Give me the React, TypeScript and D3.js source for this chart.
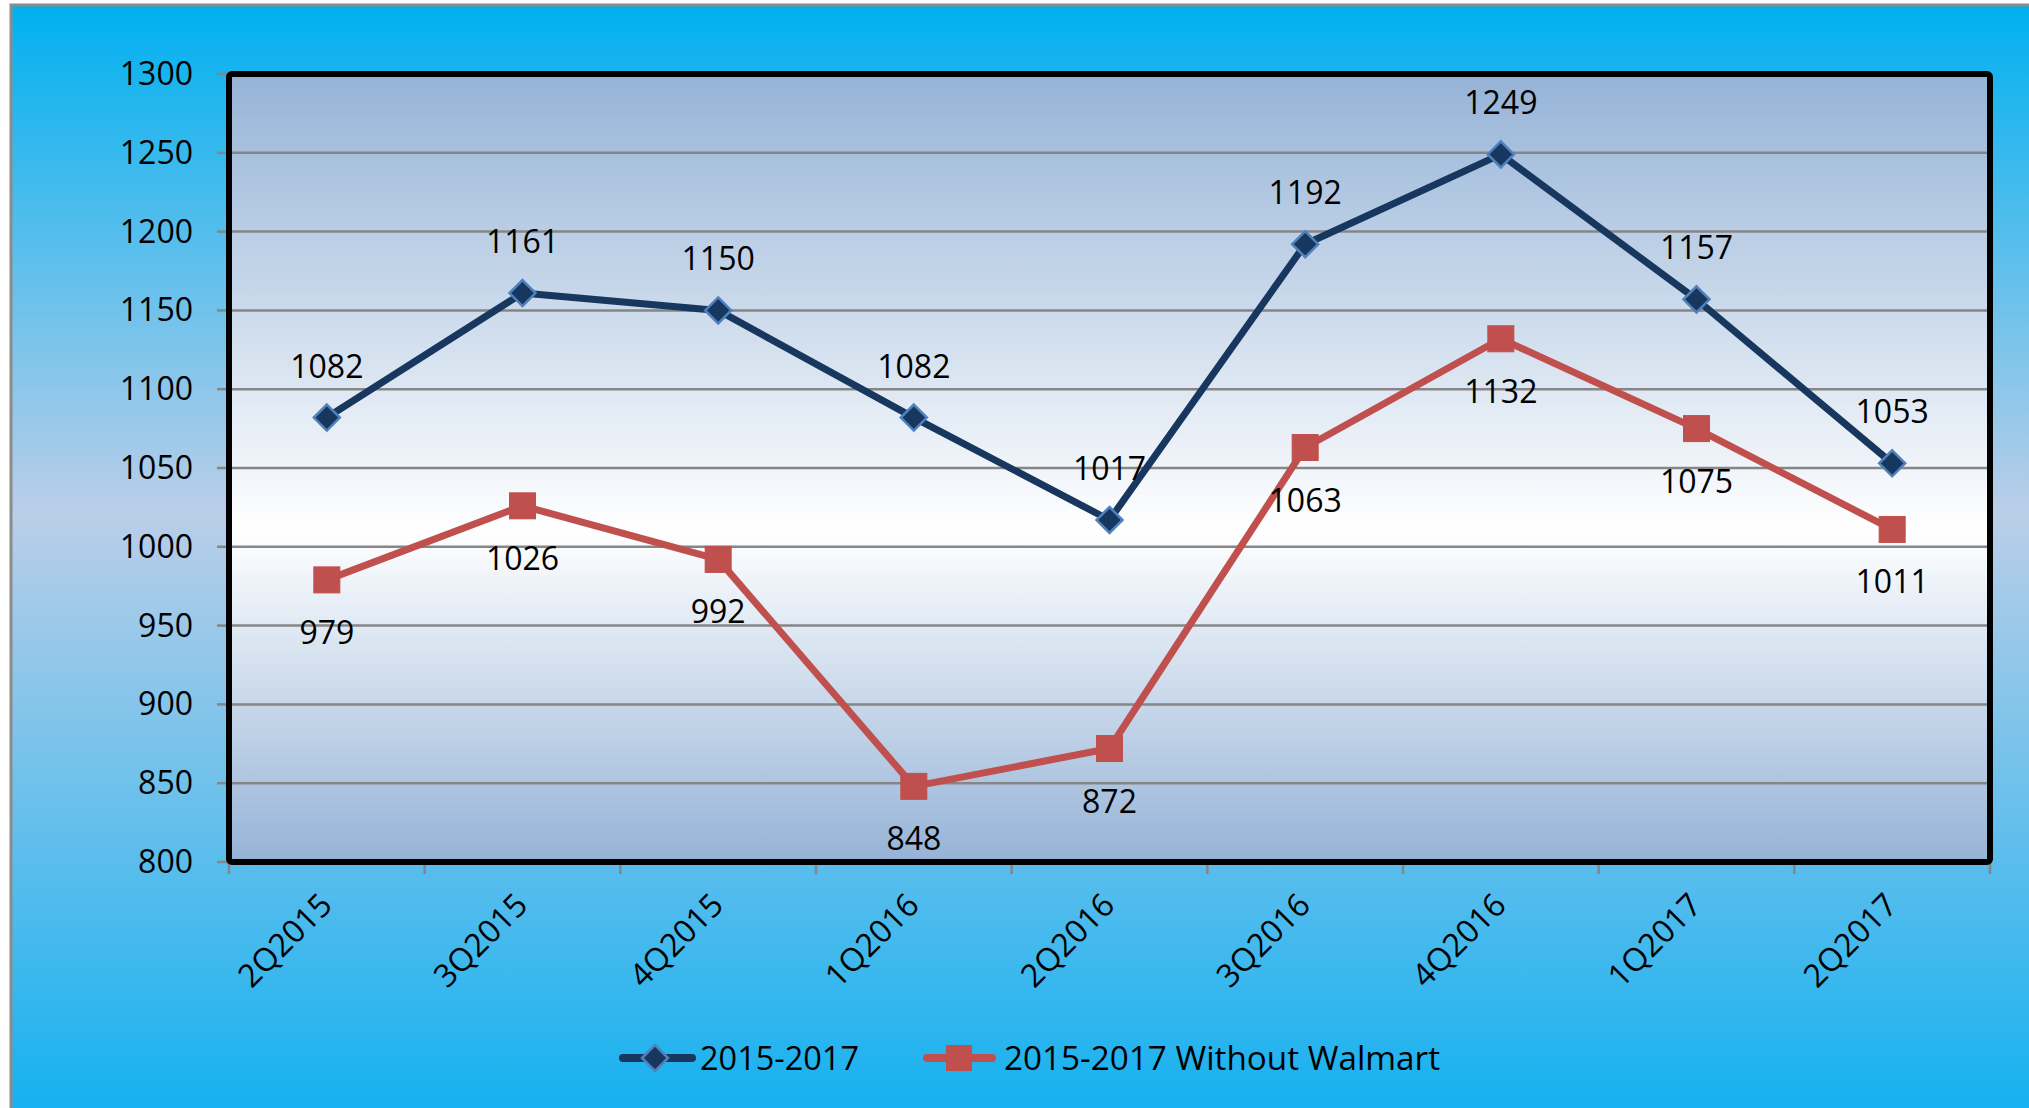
import React from "react";
import * as d3 from "d3";

const categories = ["2Q2015", "3Q2015", "4Q2015", "1Q2016", "2Q2016", "3Q2016", "4Q2016", "1Q2017", "2Q2017"];
const seriesAll = [1082, 1161, 1150, 1082, 1017, 1192, 1249, 1157, 1053];
const seriesNoWalmart = [979, 1026, 992, 848, 872, 1063, 1132, 1075, 1011];
const yTicks = [800, 850, 900, 950, 1000, 1050, 1100, 1150, 1200, 1250, 1300];
const legendLabels = ["2015-2017", "2015-2017 Without Walmart"];

const W = 2029;
const H = 1108;
const plot = { left: 229, right: 1990, top: 74, bottom: 862 };
const FONT = "'Open Sans', 'Noto Sans', sans-serif";

export default function App() {
  const x = d3.scaleBand<string>().domain(categories).range([plot.left, plot.right]).paddingInner(0).paddingOuter(0);
  const y = d3.scaleLinear().domain([800, 1300]).range([plot.bottom, plot.top]);
  const cx = (c: string) => (x(c) as number) + x.bandwidth() / 2;
  const line = d3.line<number>().x((_, i) => cx(categories[i])).y((v) => y(v));
  const boundaries = categories.map((c) => x(c) as number).concat([plot.right]);

  return (
    <svg width={W} height={H} style={{ position: "absolute", left: 0, top: 0 }} fontFamily={FONT}>
      <defs>
        <linearGradient id="bg" x1="0" y1="0" x2="0" y2="1">
          <stop offset="0" stopColor="#00b0f0" />
          <stop offset="0.45" stopColor="#bacee8" />
          <stop offset="1" stopColor="#0fb0f0" />
        </linearGradient>
        <linearGradient id="pf" x1="0" y1="0" x2="0" y2="1">
          <stop offset="0" stopColor="#95b3d7" />
          <stop offset="0.58" stopColor="#ffffff" />
          <stop offset="1" stopColor="#95b3d7" />
        </linearGradient>
      </defs>
      <rect x={0} y={0} width={W} height={H} fill="#ffffff" />
      <rect x={11} y={5} width={W + 20} height={H + 20} fill="url(#bg)" stroke="#8c8c8c" strokeWidth={3} />
      <rect x={plot.left} y={plot.top} width={plot.right - plot.left} height={plot.bottom - plot.top} fill="url(#pf)" />
      {yTicks.slice(1, -1).map((t) => (
        <line key={"g" + t} x1={plot.left} x2={plot.right} y1={y(t)} y2={y(t)} stroke="#868686" strokeWidth={2.5} />
      ))}
      {yTicks.map((t) => (
        <g key={"yt" + t}>
          <line x1={plot.left - 12} x2={plot.left} y1={y(t)} y2={y(t)} stroke="#868686" strokeWidth={2.5} />
          <text x={193} y={y(t) + 11} textAnchor="end" fontSize={32} fill="#000">{t}</text>
        </g>
      ))}
      {boundaries.map((b, i) => (
        <line key={"xt" + i} x1={b} x2={b} y1={plot.bottom} y2={plot.bottom + 12} stroke="#868686" strokeWidth={2.5} />
      ))}
      {categories.map((c) => (
        <text key={"xl" + c} transform={`translate(${cx(c) + 7},${907}) rotate(-45)`} textAnchor="end" fontSize={32} fill="#000">{c}</text>
      ))}
      <rect x={plot.left} y={plot.top} width={plot.right - plot.left} height={plot.bottom - plot.top} fill="none" stroke="#000" strokeWidth={6} rx={3} />

      <path d={line(seriesAll) || ""} fill="none" stroke="#17375e" strokeWidth={7} strokeLinejoin="round" />
      <path d={line(seriesNoWalmart) || ""} fill="none" stroke="#c0504d" strokeWidth={7} strokeLinejoin="round" />
      {seriesAll.map((v, i) => {
        const px = cx(categories[i]);
        const py = y(v);
        return (
          <g key={"a" + i}>
            <path d={`M${px},${py - 13} L${px + 13},${py} L${px},${py + 13} L${px - 13},${py} Z`} fill="#17375e" stroke="#4f81bd" strokeWidth={2.5} />
            <text x={px} y={py - 40} textAnchor="middle" fontSize={32} fill="#000">{v}</text>
          </g>
        );
      })}
      {seriesNoWalmart.map((v, i) => {
        const px = cx(categories[i]);
        const py = y(v);
        return (
          <g key={"b" + i}>
            <rect x={px - 13} y={py - 13} width={26} height={26} fill="#c0504d" stroke="#c0504d" strokeWidth={1} />
            <text x={px} y={py + 64} textAnchor="middle" fontSize={32} fill="#000">{v}</text>
          </g>
        );
      })}

      <g>
        <line x1={623} x2={692} y1={1058} y2={1058} stroke="#17375e" strokeWidth={8} strokeLinecap="round" />
        <path d={`M655,${1058 - 13} L668,1058 L655,${1058 + 13} L642,1058 Z`} fill="#17375e" stroke="#4f81bd" strokeWidth={2.5} />
        <text x={700} y={1070} fontSize={33} fill="#000" textLength={159} lengthAdjust="spacingAndGlyphs">{legendLabels[0]}</text>
        <line x1={927} x2={992} y1={1058} y2={1058} stroke="#c0504d" strokeWidth={8} strokeLinecap="round" />
        <rect x={946} y={1045} width={26} height={26} fill="#c0504d" />
        <text x={1004} y={1070} fontSize={33} fill="#000" textLength={436} lengthAdjust="spacingAndGlyphs">{legendLabels[1]}</text>
      </g>
    </svg>
  );
}
